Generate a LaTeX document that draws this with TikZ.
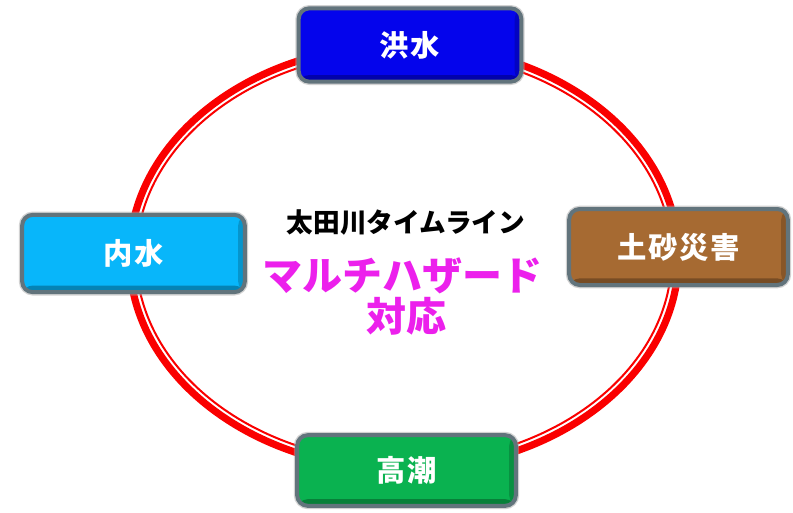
\documentclass[tikz,border=0pt]{standalone}
\usepackage{fontspec}
\newfontfamily\cjk{Noto Sans CJK JP}
\newfontfamily\cjkbox{Noto Sans CJK JP}[LetterSpace=6]
\definecolor{frameC}{RGB}{98,116,124}
\definecolor{floodC}{RGB}{4,4,236}
\definecolor{inlandC}{RGB}{8,182,250}
\definecolor{sedC}{RGB}{166,106,50}
\definecolor{tideC}{RGB}{10,178,80}
\definecolor{magC}{RGB}{236,32,236}
\definecolor{ringC}{RGB}{250,0,0}
\tikzset{
  hazbox/.style={rounded corners=8pt, draw=frameC, line width=3pt,
    minimum width=166pt, minimum height=56pt, inner sep=0pt,
    text=white, font=\cjkbox\bfseries\fontsize{22}{24}\selectfont,
    path picture={\fill[black,opacity=.28] ([yshift=-1pt]path picture bounding box.south west) rectangle ([yshift=5pt]path picture bounding box.south east);
                  \fill[black,opacity=.18] ([xshift=-5pt]path picture bounding box.south east) rectangle ([xshift=1pt]path picture bounding box.north east);},
    preaction={draw=black!35, line width=5pt, opacity=.5}},
  ringthick/.style={draw=ringC, line width=5.4pt},
  ringthin/.style={draw=ringC, line width=1.5pt},
  titletext/.style={font=\cjk\bfseries\fontsize{20}{22}\selectfont, text=black},
  maintext/.style={font=\cjk\bfseries\fontsize{30}{32}\selectfont, text=magC}
}
\begin{document}
\begin{tikzpicture}[x=0.75pt,y=-0.75pt]
\useasboundingbox[fill=white] (0,0) rectangle (793,512);
\coordinate (c) at (404,257);
\draw[ringthick] (c) ellipse [x radius=205.9pt, y radius=159.4pt];
\draw[ringthin] (c) ellipse [x radius=200.8pt, y radius=154.3pt];
\node[hazbox, fill=floodC, minimum width=167pt, minimum height=55pt] (flood) at (410,45) {洪水};
\node[hazbox, fill=inlandC, minimum width=167pt, minimum height=58pt] (inland) at (133.5,253.5) {内水};
\node[hazbox, fill=sedC, minimum width=164pt, minimum height=57pt] (sediment) at (678.5,247) {土砂災害};
\node[hazbox, fill=tideC, minimum width=164pt, minimum height=53pt] (tide) at (406.5,470.5) {高潮};
\node[titletext] (title) at (406,222) {太田川タイムライン};
\node[maintext] (multi) at (402,276) {マルチハザード};
\node[maintext] (resp) at (406,316) {対応};
\end{tikzpicture}
\end{document}
